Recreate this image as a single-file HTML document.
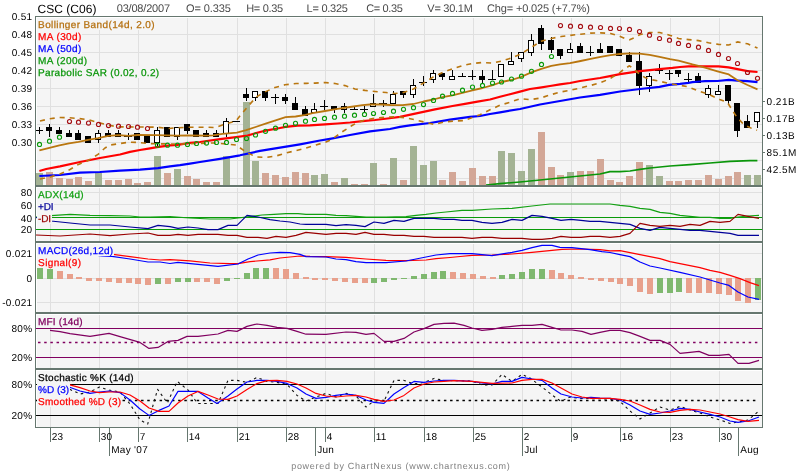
<!DOCTYPE html><html><head><meta charset="utf-8"><title>CSC (C06)</title><style>
html,body{margin:0;padding:0;background:#fff;}body{width:800px;height:472px;overflow:hidden;font-family:"Liberation Sans",sans-serif;}
svg{display:block;font-family:"Liberation Sans",sans-serif;font-size:10px;}svg{will-change:transform}text{text-rendering:geometricPrecision}
.c{shape-rendering:crispEdges}.l{fill:none;stroke-linejoin:round;stroke-linecap:butt}
</style></head><body>
<svg width="800" height="472" viewBox="0 0 800 472">
<rect width="800" height="472" fill="#fff"/>
<g class="c">
<rect x="36" y="17" width="726" height="168" fill="#ffffff"/>
<rect x="37" y="18" width="725" height="167" fill="#f5f5f5"/>
<rect x="36" y="187" width="726" height="54" fill="#ffffff"/>
<rect x="37" y="188" width="725" height="53" fill="#f5f5f5"/>
<rect x="36" y="243" width="726" height="69" fill="#ffffff"/>
<rect x="37" y="244" width="725" height="68" fill="#f5f5f5"/>
<rect x="36" y="314" width="726" height="54" fill="#ffffff"/>
<rect x="37" y="315" width="725" height="53" fill="#f5f5f5"/>
<rect x="36" y="370" width="726" height="57" fill="#ffffff"/>
<rect x="37" y="371" width="725" height="56" fill="#f5f5f5"/>
<rect x="37" y="34" width="725" height="1" fill="#e0e0e0"/>
<rect x="37" y="52" width="725" height="1" fill="#e0e0e0"/>
<rect x="37" y="70" width="725" height="1" fill="#e0e0e0"/>
<rect x="37" y="88" width="725" height="1" fill="#e0e0e0"/>
<rect x="37" y="106" width="725" height="1" fill="#e0e0e0"/>
<rect x="37" y="124" width="725" height="1" fill="#e0e0e0"/>
<rect x="37" y="142" width="725" height="1" fill="#e0e0e0"/>
<rect x="37" y="160" width="725" height="1" fill="#e0e0e0"/>
<rect x="37" y="178" width="725" height="1" fill="#e0e0e0"/>
<rect x="37" y="192" width="725" height="1" fill="#e0e0e0"/>
<rect x="37" y="204" width="725" height="1" fill="#e0e0e0"/>
<rect x="37" y="253" width="725" height="1" fill="#e0e0e0"/>
<rect x="37" y="278" width="725" height="1" fill="#e0e0e0"/>
<rect x="37" y="302" width="725" height="1" fill="#e0e0e0"/>
<rect x="50" y="18" width="1" height="167" fill="#e0e0e0"/>
<rect x="50" y="188" width="1" height="53" fill="#e0e0e0"/>
<rect x="50" y="244" width="1" height="68" fill="#e0e0e0"/>
<rect x="50" y="315" width="1" height="53" fill="#e0e0e0"/>
<rect x="50" y="371" width="1" height="56" fill="#e0e0e0"/>
<rect x="99" y="18" width="1" height="167" fill="#e0e0e0"/>
<rect x="99" y="188" width="1" height="53" fill="#e0e0e0"/>
<rect x="99" y="244" width="1" height="68" fill="#e0e0e0"/>
<rect x="99" y="315" width="1" height="53" fill="#e0e0e0"/>
<rect x="99" y="371" width="1" height="56" fill="#e0e0e0"/>
<rect x="138" y="18" width="1" height="167" fill="#e0e0e0"/>
<rect x="138" y="188" width="1" height="53" fill="#e0e0e0"/>
<rect x="138" y="244" width="1" height="68" fill="#e0e0e0"/>
<rect x="138" y="315" width="1" height="53" fill="#e0e0e0"/>
<rect x="138" y="371" width="1" height="56" fill="#e0e0e0"/>
<rect x="187" y="18" width="1" height="167" fill="#e0e0e0"/>
<rect x="187" y="188" width="1" height="53" fill="#e0e0e0"/>
<rect x="187" y="244" width="1" height="68" fill="#e0e0e0"/>
<rect x="187" y="315" width="1" height="53" fill="#e0e0e0"/>
<rect x="187" y="371" width="1" height="56" fill="#e0e0e0"/>
<rect x="237" y="18" width="1" height="167" fill="#e0e0e0"/>
<rect x="237" y="188" width="1" height="53" fill="#e0e0e0"/>
<rect x="237" y="244" width="1" height="68" fill="#e0e0e0"/>
<rect x="237" y="315" width="1" height="53" fill="#e0e0e0"/>
<rect x="237" y="371" width="1" height="56" fill="#e0e0e0"/>
<rect x="286" y="18" width="1" height="167" fill="#e0e0e0"/>
<rect x="286" y="188" width="1" height="53" fill="#e0e0e0"/>
<rect x="286" y="244" width="1" height="68" fill="#e0e0e0"/>
<rect x="286" y="315" width="1" height="53" fill="#e0e0e0"/>
<rect x="286" y="371" width="1" height="56" fill="#e0e0e0"/>
<rect x="325" y="18" width="1" height="167" fill="#e0e0e0"/>
<rect x="325" y="188" width="1" height="53" fill="#e0e0e0"/>
<rect x="325" y="244" width="1" height="68" fill="#e0e0e0"/>
<rect x="325" y="315" width="1" height="53" fill="#e0e0e0"/>
<rect x="325" y="371" width="1" height="56" fill="#e0e0e0"/>
<rect x="374" y="18" width="1" height="167" fill="#e0e0e0"/>
<rect x="374" y="188" width="1" height="53" fill="#e0e0e0"/>
<rect x="374" y="244" width="1" height="68" fill="#e0e0e0"/>
<rect x="374" y="315" width="1" height="53" fill="#e0e0e0"/>
<rect x="374" y="371" width="1" height="56" fill="#e0e0e0"/>
<rect x="424" y="18" width="1" height="167" fill="#e0e0e0"/>
<rect x="424" y="188" width="1" height="53" fill="#e0e0e0"/>
<rect x="424" y="244" width="1" height="68" fill="#e0e0e0"/>
<rect x="424" y="315" width="1" height="53" fill="#e0e0e0"/>
<rect x="424" y="371" width="1" height="56" fill="#e0e0e0"/>
<rect x="473" y="18" width="1" height="167" fill="#e0e0e0"/>
<rect x="473" y="188" width="1" height="53" fill="#e0e0e0"/>
<rect x="473" y="244" width="1" height="68" fill="#e0e0e0"/>
<rect x="473" y="315" width="1" height="53" fill="#e0e0e0"/>
<rect x="473" y="371" width="1" height="56" fill="#e0e0e0"/>
<rect x="522" y="18" width="1" height="167" fill="#e0e0e0"/>
<rect x="522" y="188" width="1" height="53" fill="#e0e0e0"/>
<rect x="522" y="244" width="1" height="68" fill="#e0e0e0"/>
<rect x="522" y="315" width="1" height="53" fill="#e0e0e0"/>
<rect x="522" y="371" width="1" height="56" fill="#e0e0e0"/>
<rect x="571" y="18" width="1" height="167" fill="#e0e0e0"/>
<rect x="571" y="188" width="1" height="53" fill="#e0e0e0"/>
<rect x="571" y="244" width="1" height="68" fill="#e0e0e0"/>
<rect x="571" y="315" width="1" height="53" fill="#e0e0e0"/>
<rect x="571" y="371" width="1" height="56" fill="#e0e0e0"/>
<rect x="620" y="18" width="1" height="167" fill="#e0e0e0"/>
<rect x="620" y="188" width="1" height="53" fill="#e0e0e0"/>
<rect x="620" y="244" width="1" height="68" fill="#e0e0e0"/>
<rect x="620" y="315" width="1" height="53" fill="#e0e0e0"/>
<rect x="620" y="371" width="1" height="56" fill="#e0e0e0"/>
<rect x="670" y="18" width="1" height="167" fill="#e0e0e0"/>
<rect x="670" y="188" width="1" height="53" fill="#e0e0e0"/>
<rect x="670" y="244" width="1" height="68" fill="#e0e0e0"/>
<rect x="670" y="315" width="1" height="53" fill="#e0e0e0"/>
<rect x="670" y="371" width="1" height="56" fill="#e0e0e0"/>
<rect x="719" y="18" width="1" height="167" fill="#e0e0e0"/>
<rect x="719" y="188" width="1" height="53" fill="#e0e0e0"/>
<rect x="719" y="244" width="1" height="68" fill="#e0e0e0"/>
<rect x="719" y="315" width="1" height="53" fill="#e0e0e0"/>
<rect x="719" y="371" width="1" height="56" fill="#e0e0e0"/>
</g>
<g class="c">
<rect x="36" y="173" width="7" height="12" fill="#a4b394"/>
<rect x="46" y="172" width="7" height="13" fill="#d3a797"/>
<rect x="56" y="178" width="7" height="7" fill="#d3a797"/>
<rect x="66" y="179" width="7" height="6" fill="#d3a797"/>
<rect x="75" y="177" width="7" height="8" fill="#d3a797"/>
<rect x="85" y="181" width="7" height="4" fill="#d3a797"/>
<rect x="95" y="173" width="7" height="12" fill="#a4b394"/>
<rect x="105" y="180" width="7" height="5" fill="#d3a797"/>
<rect x="115" y="180" width="7" height="5" fill="#d3a797"/>
<rect x="125" y="179" width="7" height="6" fill="#d3a797"/>
<rect x="134" y="183" width="7" height="2" fill="#d3a797"/>
<rect x="144" y="182" width="7" height="3" fill="#d3a797"/>
<rect x="154" y="156" width="7" height="29" fill="#a4b394"/>
<rect x="164" y="173" width="7" height="12" fill="#d3a797"/>
<rect x="174" y="169" width="7" height="16" fill="#a4b394"/>
<rect x="184" y="176" width="7" height="9" fill="#d3a797"/>
<rect x="193" y="179" width="7" height="6" fill="#d3a797"/>
<rect x="203" y="182" width="7" height="3" fill="#d3a797"/>
<rect x="213" y="182" width="7" height="3" fill="#d3a797"/>
<rect x="223" y="156" width="7" height="29" fill="#a4b394"/>
<rect x="243" y="102" width="7" height="83" fill="#a4b394"/>
<rect x="252" y="161" width="7" height="24" fill="#a4b394"/>
<rect x="262" y="173" width="7" height="12" fill="#d3a797"/>
<rect x="272" y="175" width="7" height="10" fill="#d3a797"/>
<rect x="282" y="177" width="7" height="8" fill="#d3a797"/>
<rect x="292" y="172" width="7" height="13" fill="#d3a797"/>
<rect x="302" y="173" width="7" height="12" fill="#d3a797"/>
<rect x="311" y="175" width="7" height="10" fill="#a4b394"/>
<rect x="321" y="174" width="7" height="11" fill="#a4b394"/>
<rect x="331" y="182" width="7" height="3" fill="#d3a797"/>
<rect x="341" y="178" width="7" height="7" fill="#a4b394"/>
<rect x="351" y="184" width="7" height="1" fill="#d3a797"/>
<rect x="361" y="184" width="7" height="1" fill="#d3a797"/>
<rect x="370" y="163" width="7" height="22" fill="#a4b394"/>
<rect x="380" y="184" width="7" height="1" fill="#d3a797"/>
<rect x="390" y="158" width="7" height="27" fill="#a4b394"/>
<rect x="400" y="180" width="7" height="5" fill="#d3a797"/>
<rect x="410" y="146" width="7" height="39" fill="#a4b394"/>
<rect x="420" y="165" width="7" height="20" fill="#a4b394"/>
<rect x="430" y="161" width="7" height="24" fill="#a4b394"/>
<rect x="439" y="180" width="7" height="5" fill="#d3a797"/>
<rect x="449" y="172" width="7" height="13" fill="#d3a797"/>
<rect x="459" y="181" width="7" height="4" fill="#d3a797"/>
<rect x="469" y="168" width="7" height="17" fill="#d3a797"/>
<rect x="479" y="176" width="7" height="9" fill="#d3a797"/>
<rect x="489" y="176" width="7" height="9" fill="#d3a797"/>
<rect x="498" y="151" width="7" height="34" fill="#a4b394"/>
<rect x="508" y="153" width="7" height="32" fill="#a4b394"/>
<rect x="518" y="171" width="7" height="14" fill="#a4b394"/>
<rect x="528" y="149" width="7" height="36" fill="#a4b394"/>
<rect x="538" y="132" width="7" height="53" fill="#d3a797"/>
<rect x="548" y="167" width="7" height="18" fill="#d3a797"/>
<rect x="557" y="175" width="7" height="10" fill="#d3a797"/>
<rect x="567" y="172" width="7" height="13" fill="#a4b394"/>
<rect x="577" y="171" width="7" height="14" fill="#d3a797"/>
<rect x="587" y="171" width="7" height="14" fill="#d3a797"/>
<rect x="597" y="159" width="7" height="26" fill="#d3a797"/>
<rect x="607" y="180" width="7" height="5" fill="#d3a797"/>
<rect x="616" y="182" width="7" height="3" fill="#d3a797"/>
<rect x="626" y="176" width="7" height="9" fill="#d3a797"/>
<rect x="636" y="162" width="7" height="23" fill="#d3a797"/>
<rect x="646" y="165" width="7" height="20" fill="#a4b394"/>
<rect x="656" y="176" width="7" height="9" fill="#a4b394"/>
<rect x="666" y="181" width="7" height="4" fill="#d3a797"/>
<rect x="675" y="181" width="7" height="4" fill="#d3a797"/>
<rect x="685" y="180" width="7" height="5" fill="#d3a797"/>
<rect x="695" y="180" width="7" height="5" fill="#d3a797"/>
<rect x="705" y="175" width="7" height="10" fill="#d3a797"/>
<rect x="715" y="179" width="7" height="6" fill="#d3a797"/>
<rect x="725" y="176" width="7" height="9" fill="#d3a797"/>
<rect x="734" y="172" width="7" height="13" fill="#d3a797"/>
<rect x="744" y="175" width="7" height="10" fill="#a4b394"/>
<rect x="754" y="175" width="7" height="10" fill="#a4b394"/>
</g>
<g class="c">
<rect x="39" y="127" width="1" height="7" fill="#000"/>
<rect x="35" y="130" width="8" height="1" fill="#000"/>
<rect x="49" y="124" width="1" height="13" fill="#000"/>
<rect x="46" y="127" width="6" height="4" fill="#000"/>
<rect x="59" y="127" width="1" height="7" fill="#000"/>
<rect x="56" y="130" width="6" height="4" fill="#000"/>
<rect x="69" y="130" width="1" height="7" fill="#000"/>
<rect x="66" y="133" width="6" height="4" fill="#000"/>
<rect x="78" y="130" width="1" height="10" fill="#000"/>
<rect x="75" y="133" width="6" height="7" fill="#000"/>
<rect x="88" y="136" width="1" height="7" fill="#000"/>
<rect x="85" y="136" width="6" height="7" fill="#000"/>
<rect x="98" y="130" width="1" height="13" fill="#000"/>
<rect x="95" y="133" width="6" height="7" fill="#000"/>
<rect x="96" y="134" width="4" height="5" fill="#fff"/>
<rect x="108" y="130" width="1" height="7" fill="#000"/>
<rect x="105" y="133" width="6" height="4" fill="#000"/>
<rect x="118" y="130" width="1" height="7" fill="#000"/>
<rect x="115" y="133" width="6" height="4" fill="#000"/>
<rect x="128" y="133" width="1" height="7" fill="#000"/>
<rect x="124" y="136" width="8" height="1" fill="#000"/>
<rect x="137" y="133" width="1" height="7" fill="#000"/>
<rect x="134" y="133" width="6" height="7" fill="#000"/>
<rect x="147" y="136" width="1" height="7" fill="#000"/>
<rect x="144" y="136" width="6" height="7" fill="#000"/>
<rect x="157" y="127" width="1" height="19" fill="#000"/>
<rect x="154" y="130" width="6" height="13" fill="#000"/>
<rect x="155" y="131" width="4" height="11" fill="#fff"/>
<rect x="167" y="127" width="1" height="10" fill="#000"/>
<rect x="164" y="127" width="6" height="10" fill="#000"/>
<rect x="177" y="127" width="1" height="13" fill="#000"/>
<rect x="174" y="127" width="6" height="10" fill="#000"/>
<rect x="175" y="128" width="4" height="8" fill="#fff"/>
<rect x="187" y="124" width="1" height="10" fill="#000"/>
<rect x="184" y="124" width="6" height="7" fill="#000"/>
<rect x="196" y="130" width="1" height="7" fill="#000"/>
<rect x="193" y="130" width="6" height="7" fill="#000"/>
<rect x="206" y="130" width="1" height="7" fill="#000"/>
<rect x="203" y="133" width="6" height="4" fill="#000"/>
<rect x="216" y="130" width="1" height="7" fill="#000"/>
<rect x="213" y="133" width="6" height="4" fill="#000"/>
<rect x="226" y="118" width="1" height="19" fill="#000"/>
<rect x="223" y="121" width="6" height="13" fill="#000"/>
<rect x="224" y="122" width="4" height="11" fill="#fff"/>
<rect x="232" y="121" width="8" height="1" fill="#000"/>
<rect x="246" y="88" width="1" height="13" fill="#000"/>
<rect x="243" y="94" width="6" height="4" fill="#000"/>
<rect x="255" y="91" width="1" height="10" fill="#000"/>
<rect x="252" y="91" width="6" height="7" fill="#000"/>
<rect x="253" y="92" width="4" height="5" fill="#fff"/>
<rect x="265" y="91" width="1" height="10" fill="#000"/>
<rect x="262" y="91" width="6" height="7" fill="#000"/>
<rect x="275" y="94" width="1" height="10" fill="#000"/>
<rect x="271" y="97" width="8" height="1" fill="#000"/>
<rect x="285" y="94" width="1" height="10" fill="#000"/>
<rect x="282" y="97" width="6" height="4" fill="#000"/>
<rect x="295" y="97" width="1" height="13" fill="#000"/>
<rect x="292" y="103" width="6" height="7" fill="#000"/>
<rect x="305" y="106" width="1" height="10" fill="#000"/>
<rect x="302" y="109" width="6" height="7" fill="#000"/>
<rect x="314" y="103" width="1" height="10" fill="#000"/>
<rect x="311" y="109" width="6" height="4" fill="#000"/>
<rect x="312" y="110" width="4" height="2" fill="#fff"/>
<rect x="324" y="100" width="1" height="10" fill="#000"/>
<rect x="320" y="106" width="8" height="1" fill="#000"/>
<rect x="334" y="106" width="1" height="7" fill="#000"/>
<rect x="331" y="106" width="6" height="4" fill="#000"/>
<rect x="344" y="103" width="1" height="10" fill="#000"/>
<rect x="341" y="106" width="6" height="4" fill="#000"/>
<rect x="342" y="107" width="4" height="2" fill="#fff"/>
<rect x="354" y="106" width="1" height="4" fill="#000"/>
<rect x="350" y="109" width="8" height="1" fill="#000"/>
<rect x="364" y="106" width="1" height="7" fill="#000"/>
<rect x="360" y="109" width="8" height="1" fill="#000"/>
<rect x="373" y="94" width="1" height="13" fill="#000"/>
<rect x="370" y="103" width="6" height="4" fill="#000"/>
<rect x="371" y="104" width="4" height="2" fill="#fff"/>
<rect x="383" y="100" width="1" height="7" fill="#000"/>
<rect x="379" y="103" width="8" height="1" fill="#000"/>
<rect x="393" y="91" width="1" height="13" fill="#000"/>
<rect x="390" y="94" width="6" height="10" fill="#000"/>
<rect x="391" y="95" width="4" height="8" fill="#fff"/>
<rect x="403" y="91" width="1" height="7" fill="#000"/>
<rect x="400" y="91" width="6" height="4" fill="#000"/>
<rect x="413" y="79" width="1" height="19" fill="#000"/>
<rect x="410" y="85" width="6" height="10" fill="#000"/>
<rect x="411" y="86" width="4" height="8" fill="#fff"/>
<rect x="423" y="76" width="1" height="10" fill="#000"/>
<rect x="419" y="82" width="8" height="1" fill="#000"/>
<rect x="433" y="70" width="1" height="13" fill="#000"/>
<rect x="430" y="73" width="6" height="7" fill="#000"/>
<rect x="431" y="74" width="4" height="5" fill="#fff"/>
<rect x="442" y="73" width="1" height="7" fill="#000"/>
<rect x="439" y="73" width="6" height="4" fill="#000"/>
<rect x="452" y="70" width="1" height="10" fill="#000"/>
<rect x="449" y="76" width="6" height="4" fill="#000"/>
<rect x="450" y="77" width="4" height="2" fill="#fff"/>
<rect x="462" y="73" width="1" height="4" fill="#000"/>
<rect x="458" y="76" width="8" height="1" fill="#000"/>
<rect x="472" y="70" width="1" height="10" fill="#000"/>
<rect x="468" y="76" width="8" height="1" fill="#000"/>
<rect x="482" y="70" width="1" height="13" fill="#000"/>
<rect x="479" y="76" width="6" height="4" fill="#000"/>
<rect x="492" y="70" width="1" height="10" fill="#000"/>
<rect x="488" y="79" width="8" height="1" fill="#000"/>
<rect x="501" y="64" width="1" height="13" fill="#000"/>
<rect x="498" y="64" width="6" height="13" fill="#000"/>
<rect x="499" y="65" width="4" height="11" fill="#fff"/>
<rect x="511" y="52" width="1" height="13" fill="#000"/>
<rect x="508" y="61" width="6" height="4" fill="#000"/>
<rect x="509" y="62" width="4" height="2" fill="#fff"/>
<rect x="521" y="52" width="1" height="10" fill="#000"/>
<rect x="518" y="52" width="6" height="7" fill="#000"/>
<rect x="519" y="53" width="4" height="5" fill="#fff"/>
<rect x="531" y="34" width="1" height="22" fill="#000"/>
<rect x="528" y="40" width="6" height="13" fill="#000"/>
<rect x="529" y="41" width="4" height="11" fill="#fff"/>
<rect x="541" y="25" width="1" height="25" fill="#000"/>
<rect x="538" y="28" width="6" height="16" fill="#000"/>
<rect x="551" y="37" width="1" height="16" fill="#000"/>
<rect x="548" y="40" width="6" height="10" fill="#000"/>
<rect x="560" y="49" width="1" height="10" fill="#000"/>
<rect x="557" y="49" width="6" height="7" fill="#000"/>
<rect x="570" y="43" width="1" height="10" fill="#000"/>
<rect x="567" y="49" width="6" height="4" fill="#000"/>
<rect x="568" y="50" width="4" height="2" fill="#fff"/>
<rect x="580" y="43" width="1" height="10" fill="#000"/>
<rect x="577" y="46" width="6" height="7" fill="#000"/>
<rect x="590" y="46" width="1" height="10" fill="#000"/>
<rect x="586" y="52" width="8" height="1" fill="#000"/>
<rect x="600" y="43" width="1" height="10" fill="#000"/>
<rect x="597" y="49" width="6" height="4" fill="#000"/>
<rect x="610" y="46" width="1" height="7" fill="#000"/>
<rect x="607" y="46" width="6" height="7" fill="#000"/>
<rect x="619" y="49" width="1" height="7" fill="#000"/>
<rect x="616" y="49" width="6" height="7" fill="#000"/>
<rect x="629" y="52" width="1" height="10" fill="#000"/>
<rect x="626" y="55" width="6" height="7" fill="#000"/>
<rect x="639" y="52" width="1" height="43" fill="#000"/>
<rect x="636" y="61" width="6" height="25" fill="#000"/>
<rect x="649" y="73" width="1" height="19" fill="#000"/>
<rect x="646" y="76" width="6" height="10" fill="#000"/>
<rect x="647" y="77" width="4" height="8" fill="#fff"/>
<rect x="659" y="64" width="1" height="10" fill="#000"/>
<rect x="655" y="70" width="8" height="1" fill="#000"/>
<rect x="669" y="70" width="1" height="10" fill="#000"/>
<rect x="665" y="73" width="8" height="1" fill="#000"/>
<rect x="678" y="70" width="1" height="7" fill="#000"/>
<rect x="675" y="70" width="6" height="4" fill="#000"/>
<rect x="688" y="73" width="1" height="10" fill="#000"/>
<rect x="684" y="79" width="8" height="1" fill="#000"/>
<rect x="698" y="73" width="1" height="10" fill="#000"/>
<rect x="695" y="76" width="6" height="7" fill="#000"/>
<rect x="708" y="85" width="1" height="13" fill="#000"/>
<rect x="705" y="88" width="6" height="7" fill="#000"/>
<rect x="706" y="89" width="4" height="5" fill="#fff"/>
<rect x="718" y="85" width="1" height="10" fill="#000"/>
<rect x="715" y="91" width="6" height="4" fill="#000"/>
<rect x="716" y="92" width="4" height="2" fill="#fff"/>
<rect x="728" y="85" width="1" height="19" fill="#000"/>
<rect x="725" y="85" width="6" height="16" fill="#000"/>
<rect x="737" y="103" width="1" height="34" fill="#000"/>
<rect x="734" y="103" width="6" height="28" fill="#000"/>
<rect x="747" y="115" width="1" height="13" fill="#000"/>
<rect x="744" y="121" width="6" height="7" fill="#000"/>
<rect x="757" y="112" width="1" height="16" fill="#000"/>
<rect x="754" y="112" width="6" height="10" fill="#000"/>
<rect x="755" y="113" width="4" height="8" fill="#fff"/>
</g>
<polyline class="l" points="486.0,185.0 500.0,183.6 520.0,182.0 540.0,180.0 560.0,178.0 580.0,176.0 600.0,174.0 610.0,171.6 620.0,171.6 630.0,171.0 640.0,169.4 650.0,168.0 670.0,166.0 690.0,164.6 710.0,163.0 730.0,161.4 750.0,160.6 757.4,160.6" stroke="#0a960a" stroke-width="1.6" />
<polyline class="l" points="39.4,176.0 60.0,175.0 80.0,172.6 100.0,172.0 120.0,170.6 140.0,169.7 158.0,168.2 170.0,166.4 180.0,165.2 190.0,163.6 200.0,162.0 220.0,158.8 240.0,155.3 260.0,150.9 280.0,147.7 300.0,144.3 320.0,140.5 330.0,138.8 340.0,137.0 350.0,135.0 370.0,131.4 390.0,129.0 400.0,126.9 410.0,125.4 430.0,123.0 450.0,119.6 470.0,116.8 480.0,116.0 490.0,114.0 500.0,112.3 520.0,109.0 540.0,104.5 560.0,101.0 580.0,97.5 600.0,94.8 620.0,91.5 640.0,89.0 659.4,86.9 669.1,84.9 680.0,83.9 688.4,82.9 692.5,82.2 700.0,81.5 705.0,81.1 717.5,81.0 728.8,79.9 737.5,80.6 747.5,81.2 757.5,82.1" stroke="#0000ff" stroke-width="2.2" />
<polyline class="l" points="39.4,171.0 46.2,169.0 60.0,166.4 80.0,162.0 100.0,158.0 120.0,154.5 130.0,151.9 140.0,150.0 150.0,148.3 157.0,147.2 170.0,145.3 177.5,144.8 190.0,142.9 200.0,142.0 220.0,139.2 236.0,137.1 247.5,135.5 260.0,132.0 265.6,130.6 280.0,128.0 285.6,126.9 297.5,125.6 310.0,125.3 325.0,124.4 337.5,123.5 350.0,122.5 362.5,121.2 375.0,120.0 387.5,118.5 400.0,116.8 435.0,109.4 452.5,106.0 465.0,103.8 477.5,101.7 490.0,99.5 500.0,96.8 510.0,94.2 520.0,91.6 530.0,89.0 540.0,87.6 550.0,86.0 560.0,84.4 570.0,83.0 580.0,81.0 590.0,79.5 600.0,78.0 610.0,76.2 620.0,74.2 630.0,72.6 640.0,71.2 650.0,70.2 659.4,69.1 672.5,67.9 680.0,67.0 688.5,66.4 705.0,66.3 718.5,66.4 728.5,67.4 737.5,69.2 747.5,71.1 757.5,72.0" stroke="#ff0000" stroke-width="2.2" />
<polyline class="l" points="40.0,179.0 50.0,177.0 60.0,174.0 70.0,169.5 78.5,164.4 87.9,160.6 98.0,154.4 105.0,148.0 110.0,145.0 118.4,143.8 128.8,142.2 139.0,142.5 147.5,143.5 157.5,143.8 177.5,144.0 187.5,143.8 197.5,143.5 207.5,143.1 216.0,143.0 226.0,144.0 236.0,145.0 246.0,152.0 256.0,157.0 266.0,157.4 276.0,156.0 286.0,153.0 296.0,150.6 306.0,148.0 316.0,145.0 326.0,142.0 332.0,139.4 342.0,132.0 352.0,125.5 357.5,122.5 365.0,120.0 375.0,118.0 386.0,117.2 395.0,116.8 404.0,117.6 414.0,119.6 424.0,122.0 434.0,124.4 444.0,122.0 454.0,121.0 464.0,120.6 474.0,117.0 480.0,114.7 490.0,109.8 500.0,105.2 510.0,102.3 520.0,98.7 530.0,99.6 540.0,98.2 550.0,95.0 560.0,92.0 570.0,90.4 580.0,88.0 590.0,85.6 600.0,82.9 610.0,78.7 620.0,72.3 625.0,68.5 629.5,65.8 635.0,70.2 640.0,74.6 645.0,77.5 650.0,79.4 659.4,81.2 669.1,83.5 678.8,85.0 688.4,86.9 697.5,90.6 708.8,94.4 719.6,99.4 727.5,102.5 732.5,110.6 737.1,117.5 742.5,123.1 747.1,126.2 752.5,128.8 757.1,130.2" stroke="#b9760f" stroke-width="1.6" stroke-dasharray="5,5"/>
<polyline class="l" points="40.0,121.0 49.4,118.8 59.4,117.5 69.4,117.8 78.5,118.5 88.4,119.8 98.4,122.5 108.4,125.2 118.4,126.9 128.0,126.9 157.5,127.2 167.5,128.5 177.5,127.8 187.5,127.2 197.5,127.2 207.5,127.2 215.0,127.5 226.2,123.8 236.0,121.0 241.9,113.5 247.5,106.9 253.1,100.6 257.5,96.2 265.0,91.9 275.0,87.5 285.0,84.8 296.2,83.5 306.2,83.4 315.0,83.1 325.0,82.5 335.0,83.5 345.0,85.6 355.0,89.0 365.0,90.4 375.0,91.5 386.0,92.5 395.0,93.5 402.5,92.8 413.4,89.0 423.4,83.1 433.4,76.9 442.5,72.5 452.4,68.8 462.4,65.6 472.4,63.5 482.5,62.5 492.5,63.1 501.2,61.2 511.2,58.1 521.2,53.8 531.2,47.5 541.2,41.2 551.2,38.5 561.2,36.5 570.0,35.4 580.6,34.2 590.6,33.1 600.6,32.9 610.6,33.5 619.6,36.2 625.0,38.5 629.6,39.8 635.0,37.5 639.6,34.8 649.6,32.5 659.6,32.5 669.6,35.2 678.5,38.5 688.5,39.6 698.5,40.6 708.5,42.8 718.5,44.4 728.5,45.0 737.5,41.9 747.5,43.8 757.5,48.1" stroke="#b9760f" stroke-width="1.6" stroke-dasharray="5,5"/>
<polyline class="l" points="39.4,150.4 49.4,147.8 59.4,145.3 69.0,143.3 78.5,141.8 88.0,139.9 98.0,138.1 108.4,135.9 118.4,135.2 128.8,135.8 137.5,135.0 157.0,135.2 177.5,135.6 187.5,135.4 207.5,135.6 213.0,135.4 222.5,133.8 236.9,132.6 246.2,130.1 255.6,127.0 265.6,123.7 275.6,120.4 285.6,117.2 295.6,116.5 305.6,114.8 312.5,113.1 325.0,111.0 337.5,108.8 350.0,107.0 362.5,105.1 370.0,104.5 381.0,104.5 390.0,105.0 402.5,105.2 413.4,104.0 423.4,101.5 433.4,99.5 442.5,97.1 452.4,95.3 462.4,92.8 472.4,90.3 482.5,88.0 492.0,85.4 501.6,82.0 511.4,80.0 521.4,76.8 531.3,72.4 541.3,68.8 551.3,65.9 560.0,64.3 570.0,63.1 580.6,61.0 590.6,58.8 600.6,56.9 610.6,55.1 619.6,54.0 629.6,53.4 639.6,53.6 649.6,54.9 659.6,56.9 670.0,59.2 678.5,60.6 692.5,64.4 698.5,65.8 705.0,67.6 717.5,71.3 728.8,74.4 737.5,80.3 747.5,85.0 757.5,89.4" stroke="#b9760f" stroke-width="1.8" />
<circle cx="39.5" cy="144.4" r="2.05" fill="none" stroke="#0a9a0a" stroke-width="1.1"/>
<circle cx="49.5" cy="141.2" r="2.05" fill="none" stroke="#0a9a0a" stroke-width="1.1"/>
<circle cx="59.5" cy="137.2" r="2.05" fill="none" stroke="#0a9a0a" stroke-width="1.1"/>
<circle cx="69.5" cy="121.5" r="2.05" fill="none" stroke="#a50f14" stroke-width="1.1"/>
<circle cx="78.5" cy="122.2" r="2.05" fill="none" stroke="#a50f14" stroke-width="1.1"/>
<circle cx="88.5" cy="123.1" r="2.05" fill="none" stroke="#a50f14" stroke-width="1.1"/>
<circle cx="98.5" cy="124.4" r="2.05" fill="none" stroke="#a50f14" stroke-width="1.1"/>
<circle cx="108.5" cy="125.6" r="2.05" fill="none" stroke="#a50f14" stroke-width="1.1"/>
<circle cx="118.5" cy="126.2" r="2.05" fill="none" stroke="#a50f14" stroke-width="1.1"/>
<circle cx="128.5" cy="126.5" r="2.05" fill="none" stroke="#a50f14" stroke-width="1.1"/>
<circle cx="137.5" cy="127.2" r="2.05" fill="none" stroke="#a50f14" stroke-width="1.1"/>
<circle cx="147.5" cy="128.5" r="2.05" fill="none" stroke="#a50f14" stroke-width="1.1"/>
<circle cx="157.5" cy="145.2" r="2.05" fill="none" stroke="#0a9a0a" stroke-width="1.1"/>
<circle cx="167.5" cy="145.2" r="2.05" fill="none" stroke="#0a9a0a" stroke-width="1.1"/>
<circle cx="177.5" cy="145.2" r="2.05" fill="none" stroke="#0a9a0a" stroke-width="1.1"/>
<circle cx="187.5" cy="144.4" r="2.05" fill="none" stroke="#0a9a0a" stroke-width="1.1"/>
<circle cx="196.5" cy="143.5" r="2.05" fill="none" stroke="#0a9a0a" stroke-width="1.1"/>
<circle cx="206.5" cy="143.1" r="2.05" fill="none" stroke="#0a9a0a" stroke-width="1.1"/>
<circle cx="216.5" cy="142.5" r="2.05" fill="none" stroke="#0a9a0a" stroke-width="1.1"/>
<circle cx="226.5" cy="142.4" r="2.05" fill="none" stroke="#0a9a0a" stroke-width="1.1"/>
<circle cx="236.5" cy="139.5" r="2.05" fill="none" stroke="#0a9a0a" stroke-width="1.1"/>
<circle cx="246.5" cy="138.5" r="2.05" fill="none" stroke="#0a9a0a" stroke-width="1.1"/>
<circle cx="255.5" cy="135.0" r="2.05" fill="none" stroke="#0a9a0a" stroke-width="1.1"/>
<circle cx="265.5" cy="131.3" r="2.05" fill="none" stroke="#0a9a0a" stroke-width="1.1"/>
<circle cx="275.5" cy="128.2" r="2.05" fill="none" stroke="#0a9a0a" stroke-width="1.1"/>
<circle cx="285.5" cy="125.3" r="2.05" fill="none" stroke="#0a9a0a" stroke-width="1.1"/>
<circle cx="295.5" cy="123.3" r="2.05" fill="none" stroke="#0a9a0a" stroke-width="1.1"/>
<circle cx="305.5" cy="121.2" r="2.05" fill="none" stroke="#0a9a0a" stroke-width="1.1"/>
<circle cx="314.5" cy="119.4" r="2.05" fill="none" stroke="#0a9a0a" stroke-width="1.1"/>
<circle cx="324.5" cy="118.4" r="2.05" fill="none" stroke="#0a9a0a" stroke-width="1.1"/>
<circle cx="334.5" cy="117.2" r="2.05" fill="none" stroke="#0a9a0a" stroke-width="1.1"/>
<circle cx="344.5" cy="116.2" r="2.05" fill="none" stroke="#0a9a0a" stroke-width="1.1"/>
<circle cx="354.5" cy="115.2" r="2.05" fill="none" stroke="#0a9a0a" stroke-width="1.1"/>
<circle cx="364.5" cy="114.4" r="2.05" fill="none" stroke="#0a9a0a" stroke-width="1.1"/>
<circle cx="373.5" cy="113.5" r="2.05" fill="none" stroke="#0a9a0a" stroke-width="1.1"/>
<circle cx="383.5" cy="112.5" r="2.05" fill="none" stroke="#0a9a0a" stroke-width="1.1"/>
<circle cx="393.5" cy="111.2" r="2.05" fill="none" stroke="#0a9a0a" stroke-width="1.1"/>
<circle cx="403.5" cy="109.3" r="2.05" fill="none" stroke="#0a9a0a" stroke-width="1.1"/>
<circle cx="413.5" cy="107.7" r="2.05" fill="none" stroke="#0a9a0a" stroke-width="1.1"/>
<circle cx="423.5" cy="104.6" r="2.05" fill="none" stroke="#0a9a0a" stroke-width="1.1"/>
<circle cx="433.5" cy="100.4" r="2.05" fill="none" stroke="#0a9a0a" stroke-width="1.1"/>
<circle cx="442.5" cy="96.2" r="2.05" fill="none" stroke="#0a9a0a" stroke-width="1.1"/>
<circle cx="452.5" cy="93.4" r="2.05" fill="none" stroke="#0a9a0a" stroke-width="1.1"/>
<circle cx="462.5" cy="90.2" r="2.05" fill="none" stroke="#0a9a0a" stroke-width="1.1"/>
<circle cx="472.5" cy="87.1" r="2.05" fill="none" stroke="#0a9a0a" stroke-width="1.1"/>
<circle cx="482.5" cy="85.4" r="2.05" fill="none" stroke="#0a9a0a" stroke-width="1.1"/>
<circle cx="492.5" cy="83.0" r="2.05" fill="none" stroke="#0a9a0a" stroke-width="1.1"/>
<circle cx="501.5" cy="82.0" r="2.05" fill="none" stroke="#0a9a0a" stroke-width="1.1"/>
<circle cx="511.5" cy="79.0" r="2.05" fill="none" stroke="#0a9a0a" stroke-width="1.1"/>
<circle cx="521.5" cy="76.2" r="2.05" fill="none" stroke="#0a9a0a" stroke-width="1.1"/>
<circle cx="531.5" cy="71.3" r="2.05" fill="none" stroke="#0a9a0a" stroke-width="1.1"/>
<circle cx="541.5" cy="64.4" r="2.05" fill="none" stroke="#0a9a0a" stroke-width="1.1"/>
<circle cx="551.5" cy="56.5" r="2.05" fill="none" stroke="#0a9a0a" stroke-width="1.1"/>
<circle cx="560.5" cy="25.6" r="2.05" fill="none" stroke="#a50f14" stroke-width="1.1"/>
<circle cx="570.5" cy="26.2" r="2.05" fill="none" stroke="#a50f14" stroke-width="1.1"/>
<circle cx="580.5" cy="26.4" r="2.05" fill="none" stroke="#a50f14" stroke-width="1.1"/>
<circle cx="590.5" cy="27.2" r="2.05" fill="none" stroke="#a50f14" stroke-width="1.1"/>
<circle cx="600.5" cy="27.5" r="2.05" fill="none" stroke="#a50f14" stroke-width="1.1"/>
<circle cx="610.5" cy="28.4" r="2.05" fill="none" stroke="#a50f14" stroke-width="1.1"/>
<circle cx="619.5" cy="28.5" r="2.05" fill="none" stroke="#a50f14" stroke-width="1.1"/>
<circle cx="629.5" cy="29.4" r="2.05" fill="none" stroke="#a50f14" stroke-width="1.1"/>
<circle cx="639.5" cy="31.5" r="2.05" fill="none" stroke="#a50f14" stroke-width="1.1"/>
<circle cx="649.5" cy="35.2" r="2.05" fill="none" stroke="#a50f14" stroke-width="1.1"/>
<circle cx="659.5" cy="38.5" r="2.05" fill="none" stroke="#a50f14" stroke-width="1.1"/>
<circle cx="669.5" cy="40.2" r="2.05" fill="none" stroke="#a50f14" stroke-width="1.1"/>
<circle cx="678.5" cy="43.4" r="2.05" fill="none" stroke="#a50f14" stroke-width="1.1"/>
<circle cx="688.5" cy="45.4" r="2.05" fill="none" stroke="#a50f14" stroke-width="1.1"/>
<circle cx="698.5" cy="47.2" r="2.05" fill="none" stroke="#a50f14" stroke-width="1.1"/>
<circle cx="708.5" cy="50.4" r="2.05" fill="none" stroke="#a50f14" stroke-width="1.1"/>
<circle cx="718.5" cy="54.4" r="2.05" fill="none" stroke="#a50f14" stroke-width="1.1"/>
<circle cx="728.5" cy="58.5" r="2.05" fill="none" stroke="#a50f14" stroke-width="1.1"/>
<circle cx="737.5" cy="63.5" r="2.05" fill="none" stroke="#a50f14" stroke-width="1.1"/>
<circle cx="747.5" cy="72.5" r="2.05" fill="none" stroke="#a50f14" stroke-width="1.1"/>
<circle cx="757.5" cy="78.3" r="2.05" fill="none" stroke="#a50f14" stroke-width="1.1"/>
<g class="c">
<rect x="36" y="217" width="726" height="1.4" fill="#0a9a0a"/>
<rect x="36" y="229" width="726" height="1.4" fill="#0a9a0a"/>
</g>
<polyline class="l" points="36.0,217.0 51.0,215.6 70.0,214.4 90.0,215.4 110.0,215.6 130.0,216.0 140.0,217.0 150.0,217.0 170.0,216.6 190.0,218.0 210.0,219.0 230.0,219.0 238.0,218.0 250.0,216.6 262.0,215.0 274.0,214.4 286.0,213.6 298.0,213.6 306.0,214.4 326.0,214.4 336.0,215.4 346.0,215.6 356.0,216.4 366.0,217.0 386.0,217.0 406.0,216.6 416.0,215.4 426.0,214.4 436.0,213.0 446.0,212.0 462.0,210.4 472.0,210.4 492.0,209.0 512.0,208.4 532.0,206.0 550.0,204.0 610.0,204.0 620.0,205.4 630.0,206.4 640.0,208.4 650.0,209.4 660.0,212.4 670.0,213.4 680.0,215.4 690.0,216.4 700.0,217.4 710.0,217.4 720.0,218.4 730.0,218.4 738.0,217.0 748.0,216.0 759.0,215.4" stroke="#12a012" stroke-width="1.2" />
<polyline class="l" points="36.0,217.5 51.0,221.0 70.0,223.0 90.0,225.0 110.0,225.0 130.0,227.0 148.0,228.6 158.0,225.4 170.0,226.6 178.0,228.4 188.0,227.0 198.0,228.0 208.0,229.6 218.0,229.6 228.0,225.4 237.0,225.4 247.0,215.4 258.0,217.0 270.0,219.6 280.0,221.0 290.0,222.0 300.0,224.0 306.0,224.4 326.0,224.4 336.0,225.6 346.0,224.6 356.0,225.4 365.0,226.6 374.0,222.0 384.0,223.4 394.0,220.4 404.0,221.4 414.0,218.4 434.0,218.4 444.0,219.4 454.0,219.4 462.0,220.4 472.0,220.4 482.0,222.4 492.0,223.4 502.0,222.4 512.0,219.4 522.0,220.4 532.0,215.4 542.0,216.4 552.0,218.4 561.0,220.4 571.0,219.4 581.0,220.4 590.0,221.4 600.0,221.4 610.0,222.4 620.0,223.4 630.0,224.4 640.0,228.4 650.0,230.4 660.0,227.4 670.0,228.4 680.0,229.4 690.0,230.4 700.0,230.4 710.0,231.4 720.0,232.4 730.0,233.4 738.0,235.4 759.0,235.4" stroke="#000099" stroke-width="1.2" />
<polyline class="l" points="36.0,235.0 60.0,236.0 90.0,234.0 110.0,235.6 130.0,234.0 148.0,233.0 158.0,235.4 170.0,235.4 178.0,234.4 188.0,235.4 198.0,234.4 218.0,234.4 228.0,235.4 237.0,235.4 247.0,237.4 258.0,237.4 267.0,238.4 276.0,236.4 286.0,237.4 296.0,235.4 306.0,232.4 316.0,233.4 326.0,234.4 336.0,233.4 346.0,233.4 356.0,234.4 365.0,232.4 374.0,234.4 384.0,234.4 394.0,235.4 404.0,235.4 414.0,236.4 424.0,236.4 434.0,237.4 462.0,237.4 472.0,238.4 482.0,237.4 492.0,237.4 502.0,238.4 522.0,238.4 532.0,239.4 542.0,239.4 552.0,238.4 561.0,236.4 571.0,237.4 581.0,237.4 590.0,236.4 600.0,236.4 610.0,237.4 620.0,236.4 630.0,233.4 640.0,223.4 650.0,225.4 660.0,226.4 670.0,225.4 680.0,226.4 690.0,224.4 700.0,225.4 710.0,221.4 720.0,222.4 730.0,221.4 738.0,214.4 748.0,216.4 759.0,218.4" stroke="#990000" stroke-width="1.2" />
<g class="c">
<rect x="37" y="268" width="6" height="11" fill="#7fb86f"/>
<rect x="47" y="269" width="6" height="10" fill="#7fb86f"/>
<rect x="57" y="271" width="6" height="8" fill="#e8a08c"/>
<rect x="67" y="274" width="6" height="5" fill="#e8a08c"/>
<rect x="76" y="277" width="6" height="2" fill="#e8a08c"/>
<rect x="86" y="278" width="6" height="3" fill="#e8a08c"/>
<rect x="96" y="278" width="6" height="3" fill="#e8a08c"/>
<rect x="106" y="278" width="6" height="4" fill="#e8a08c"/>
<rect x="116" y="278" width="6" height="5" fill="#e8a08c"/>
<rect x="126" y="278" width="6" height="5" fill="#e8a08c"/>
<rect x="135" y="278" width="6" height="6" fill="#e8a08c"/>
<rect x="145" y="278" width="6" height="7" fill="#e8a08c"/>
<rect x="155" y="278" width="6" height="6" fill="#7fb86f"/>
<rect x="165" y="278" width="6" height="6" fill="#e8a08c"/>
<rect x="175" y="278" width="6" height="4" fill="#7fb86f"/>
<rect x="185" y="278" width="6" height="4" fill="#7fb86f"/>
<rect x="194" y="278" width="6" height="4" fill="#e8a08c"/>
<rect x="204" y="278" width="6" height="4" fill="#e8a08c"/>
<rect x="214" y="278" width="6" height="6" fill="#e8a08c"/>
<rect x="224" y="278" width="6" height="3" fill="#7fb86f"/>
<rect x="234" y="278" width="6" height="1" fill="#7fb86f"/>
<rect x="244" y="273" width="6" height="6" fill="#7fb86f"/>
<rect x="253" y="268" width="6" height="11" fill="#7fb86f"/>
<rect x="263" y="268" width="6" height="11" fill="#7fb86f"/>
<rect x="273" y="268" width="6" height="11" fill="#e8a08c"/>
<rect x="283" y="269" width="6" height="10" fill="#e8a08c"/>
<rect x="293" y="273" width="6" height="6" fill="#e8a08c"/>
<rect x="303" y="277" width="6" height="2" fill="#e8a08c"/>
<rect x="312" y="278" width="6" height="2" fill="#e8a08c"/>
<rect x="322" y="278" width="6" height="2" fill="#e8a08c"/>
<rect x="332" y="278" width="6" height="3" fill="#e8a08c"/>
<rect x="342" y="278" width="6" height="4" fill="#e8a08c"/>
<rect x="352" y="278" width="6" height="5" fill="#e8a08c"/>
<rect x="362" y="278" width="6" height="5" fill="#e8a08c"/>
<rect x="371" y="278" width="6" height="5" fill="#7fb86f"/>
<rect x="381" y="278" width="6" height="4" fill="#7fb86f"/>
<rect x="391" y="278" width="6" height="2" fill="#7fb86f"/>
<rect x="401" y="278" width="6" height="1" fill="#7fb86f"/>
<rect x="411" y="276" width="6" height="3" fill="#7fb86f"/>
<rect x="421" y="274" width="6" height="5" fill="#7fb86f"/>
<rect x="431" y="272" width="6" height="7" fill="#7fb86f"/>
<rect x="440" y="271" width="6" height="8" fill="#7fb86f"/>
<rect x="450" y="272" width="6" height="7" fill="#e8a08c"/>
<rect x="460" y="273" width="6" height="6" fill="#e8a08c"/>
<rect x="470" y="274" width="6" height="5" fill="#e8a08c"/>
<rect x="480" y="276" width="6" height="3" fill="#e8a08c"/>
<rect x="490" y="277" width="6" height="2" fill="#e8a08c"/>
<rect x="499" y="275" width="6" height="4" fill="#7fb86f"/>
<rect x="509" y="274" width="6" height="5" fill="#7fb86f"/>
<rect x="519" y="272" width="6" height="7" fill="#7fb86f"/>
<rect x="529" y="269" width="6" height="10" fill="#7fb86f"/>
<rect x="539" y="269" width="6" height="10" fill="#7fb86f"/>
<rect x="549" y="270" width="6" height="9" fill="#e8a08c"/>
<rect x="558" y="273" width="6" height="6" fill="#e8a08c"/>
<rect x="568" y="275" width="6" height="4" fill="#e8a08c"/>
<rect x="578" y="277" width="6" height="2" fill="#e8a08c"/>
<rect x="588" y="278" width="6" height="2" fill="#e8a08c"/>
<rect x="598" y="278" width="6" height="3" fill="#e8a08c"/>
<rect x="608" y="278" width="6" height="4" fill="#e8a08c"/>
<rect x="617" y="278" width="6" height="6" fill="#e8a08c"/>
<rect x="627" y="278" width="6" height="8" fill="#e8a08c"/>
<rect x="637" y="278" width="6" height="14" fill="#e8a08c"/>
<rect x="647" y="278" width="6" height="16" fill="#e8a08c"/>
<rect x="657" y="278" width="6" height="15" fill="#7fb86f"/>
<rect x="667" y="278" width="6" height="15" fill="#7fb86f"/>
<rect x="676" y="278" width="6" height="14" fill="#7fb86f"/>
<rect x="686" y="278" width="6" height="15" fill="#e8a08c"/>
<rect x="696" y="278" width="6" height="15" fill="#e8a08c"/>
<rect x="706" y="278" width="6" height="15" fill="#e8a08c"/>
<rect x="716" y="278" width="6" height="16" fill="#e8a08c"/>
<rect x="726" y="278" width="6" height="17" fill="#e8a08c"/>
<rect x="735" y="278" width="6" height="23" fill="#e8a08c"/>
<rect x="745" y="278" width="6" height="25" fill="#e8a08c"/>
<rect x="755" y="278" width="6" height="22" fill="#7fb86f"/>
</g>
<polyline class="l" points="40.0,246.5 60.0,249.0 90.0,252.0 113.0,254.4 130.0,256.6 148.0,259.0 160.0,260.0 170.0,259.6 190.0,260.8 210.0,263.0 230.0,263.6 238.0,263.6 250.0,261.6 270.0,259.8 280.0,258.0 290.0,257.0 300.0,256.0 310.0,256.4 326.0,256.6 346.0,257.4 366.0,259.0 386.0,260.4 406.0,260.6 426.0,260.0 436.0,258.6 450.0,257.5 460.0,256.5 472.0,255.4 492.0,255.0 512.0,254.0 532.0,252.4 552.0,250.4 562.0,249.4 580.0,249.0 600.0,249.6 610.0,250.8 620.0,250.6 630.0,252.6 640.0,254.6 660.0,258.6 670.0,261.6 680.0,263.6 700.0,267.6 710.0,270.4 720.0,272.4 730.0,275.4 740.0,278.6 750.0,282.6 759.0,285.6" stroke="#ff0000" stroke-width="1.2" />
<polyline class="l" points="40.0,249.5 60.0,251.5 80.0,253.5 102.0,256.0 112.0,256.4 130.0,259.0 148.0,262.0 160.0,262.0 170.0,263.5 178.0,262.4 198.0,264.4 218.0,266.4 238.0,264.0 248.0,259.0 258.0,255.0 270.0,253.0 280.0,252.4 290.0,252.6 300.0,254.4 306.0,256.6 326.0,257.0 336.0,259.0 346.0,259.6 356.0,261.6 366.0,262.6 386.0,262.6 406.0,261.0 416.0,259.0 426.0,257.0 436.0,255.0 450.0,253.6 472.0,253.6 492.0,255.6 512.0,252.4 522.0,250.4 532.0,247.6 542.0,245.4 552.0,245.4 560.0,247.4 572.0,247.6 590.0,249.6 602.0,251.6 610.0,252.5 620.0,254.6 630.0,256.6 640.0,262.0 650.0,266.0 660.0,268.0 680.0,272.4 700.0,277.0 710.0,280.0 720.0,283.0 729.0,285.4 738.0,292.0 748.0,297.0 759.0,299.4" stroke="#0000ff" stroke-width="1.2" />
<g class="c">
<rect x="36" y="328" width="726" height="1.3" fill="#800060"/>
<rect x="36" y="357" width="726" height="1.3" fill="#800060"/>
</g>
<line x1="38" y1="342.5" x2="758" y2="342.5" stroke="#800060" stroke-width="1.3" stroke-dasharray="2.5,3.68"/>
<polyline class="l" points="50.0,330.4 60.0,331.6 70.0,333.6 90.0,336.4 109.0,333.4 120.0,336.6 140.0,342.4 149.0,348.4 158.0,347.4 168.0,341.4 178.0,340.4 187.0,336.4 198.0,336.4 218.0,334.0 228.0,330.4 237.0,331.4 247.0,326.4 257.0,324.0 267.0,325.4 277.0,327.4 287.0,328.4 297.0,331.4 306.0,334.2 326.0,334.4 346.0,332.0 356.0,332.4 366.0,334.4 374.0,333.4 384.0,341.4 394.0,341.4 404.0,338.4 414.0,332.0 424.0,328.6 434.0,324.4 444.0,323.4 454.0,323.2 464.0,325.4 472.0,328.0 482.0,330.4 492.0,329.4 502.0,327.4 512.0,326.4 522.0,325.4 532.0,325.4 542.0,324.4 552.0,327.4 561.0,330.0 572.0,330.0 582.0,331.4 591.0,334.4 600.0,332.4 610.0,330.4 620.0,330.4 630.0,332.6 640.0,336.4 650.0,340.4 660.0,340.4 670.0,344.4 680.0,353.4 690.0,352.4 699.0,351.4 709.0,355.4 719.0,355.4 729.0,354.4 738.0,363.4 749.0,363.4 759.0,360.4" stroke="#800060" stroke-width="1.2" />
<g class="c">
<rect x="36" y="384" width="726" height="1.3" fill="#000"/>
<rect x="36" y="415" width="726" height="1.3" fill="#000"/>
</g>
<line x1="36" y1="400.5" x2="758" y2="400.5" stroke="#000" stroke-width="1.3" stroke-dasharray="2.5,3.68"/>
<polyline class="l" points="40.0,386.0 69.0,389.0 80.0,394.0 90.0,392.0 99.4,387.0 109.0,390.0 120.0,392.0 130.0,404.0 140.0,420.0 147.7,424.0 157.6,389.4 167.4,403.0 177.2,381.4 188.0,390.0 197.5,403.5 218.0,403.5 228.0,380.4 237.0,380.4 247.0,382.4 257.0,377.4 267.0,381.4 277.0,382.4 287.0,384.4 297.0,395.4 306.0,401.0 316.0,397.0 326.0,393.4 336.0,397.0 346.0,393.4 356.0,396.0 366.0,407.0 374.0,401.0 384.0,401.0 394.0,380.4 404.0,380.4 414.0,384.0 424.0,382.4 434.0,378.4 444.0,380.4 472.0,381.0 482.0,385.0 492.0,385.0 502.0,374.4 512.0,381.4 522.0,374.4 530.0,378.0 542.0,387.0 552.0,395.0 561.0,401.4 570.0,397.0 580.0,398.4 610.0,399.0 620.0,401.4 630.0,411.0 640.0,419.0 650.0,413.0 660.0,407.0 670.0,410.0 680.0,406.4 690.0,410.0 700.0,413.0 710.0,417.0 720.0,420.0 730.0,423.4 738.0,422.0 748.0,420.0 759.0,411.0" stroke="#111" stroke-width="1.1" stroke-dasharray="2.5,3.5"/>
<polyline class="l" points="40.0,385.0 69.0,387.0 80.0,391.0 90.0,393.4 99.4,392.0 109.0,391.0 120.0,392.6 130.0,400.0 140.0,409.0 149.0,415.4 159.0,410.4 169.0,406.0 178.0,391.4 198.0,391.4 208.0,398.0 217.0,403.4 228.0,396.0 237.0,389.0 247.0,382.0 257.0,380.4 267.0,380.4 277.0,381.4 287.0,383.4 297.0,388.0 306.0,394.0 316.0,398.4 326.0,397.4 336.0,395.4 346.0,394.0 356.0,395.4 366.0,400.0 374.0,402.4 384.0,403.4 394.0,394.0 404.0,387.4 414.0,381.4 424.0,382.4 434.0,381.0 444.0,380.4 454.0,380.4 472.0,381.4 482.0,383.0 492.0,384.0 502.0,381.4 512.0,381.4 522.0,377.4 532.0,379.0 542.0,380.4 552.0,388.0 561.0,394.0 572.0,397.0 582.0,398.0 591.0,397.4 600.0,398.0 610.0,398.4 620.0,400.0 630.0,405.0 640.0,411.0 650.0,414.4 660.0,413.0 670.0,411.0 680.0,408.4 690.0,409.4 700.0,412.0 710.0,414.4 720.0,417.0 730.0,421.0 738.0,422.4 748.0,421.0 759.0,417.0" stroke="#0000ff" stroke-width="1.15" />
<polyline class="l" points="40.0,384.0 69.0,384.6 80.0,387.6 90.0,391.0 99.4,392.6 109.0,392.0 120.0,392.0 130.0,395.0 140.0,401.0 149.0,408.0 159.0,411.4 169.0,411.4 178.0,403.0 188.0,396.0 198.0,391.4 208.0,395.0 218.0,399.0 228.0,399.4 237.0,396.0 247.0,389.4 257.0,383.6 267.0,380.6 277.0,380.4 287.0,381.4 297.0,384.0 306.0,388.0 316.0,393.4 326.0,396.0 336.0,397.0 346.0,396.0 356.0,395.4 366.0,397.0 374.0,399.4 384.0,401.4 394.0,400.0 404.0,395.4 414.0,388.0 424.0,384.0 434.0,382.0 444.0,381.4 454.0,380.6 472.0,381.4 492.0,383.4 512.0,383.0 522.0,380.4 532.0,379.4 542.0,379.4 552.0,383.0 561.0,388.0 572.0,394.0 582.0,397.0 591.0,398.4 610.0,398.4 620.0,399.4 630.0,401.0 640.0,405.0 650.0,409.4 660.0,412.0 670.0,412.4 680.0,410.4 690.0,409.4 700.0,410.0 710.0,412.0 720.0,414.0 730.0,417.0 738.0,419.6 748.0,421.4 759.0,420.4" stroke="#ff0000" stroke-width="1.15" />
<rect class="c" x="37" y="18" width="118.0" height="12" fill="#f5f5f5"/>
<text x="38.1" y="28" fill="#b5700f" stroke="#b5700f" stroke-width="0.25" textLength="116.5" lengthAdjust="spacing">Bollinger Band(14d, 2.0)</text>
<rect class="c" x="37" y="30" width="44.7" height="12" fill="#f5f5f5"/>
<text x="38.1" y="40" fill="#ff0000" stroke="#ff0000" stroke-width="0.25" textLength="43.2" lengthAdjust="spacing">MA (30d)</text>
<rect class="c" x="37" y="42" width="44.7" height="12" fill="#f5f5f5"/>
<text x="38.1" y="52" fill="#0000ff" stroke="#0000ff" stroke-width="0.25" textLength="43.2" lengthAdjust="spacing">MA (50d)</text>
<rect class="c" x="37" y="54" width="50.5" height="12" fill="#f5f5f5"/>
<text x="38.1" y="64" fill="#0a960a" stroke="#0a960a" stroke-width="0.25" textLength="49" lengthAdjust="spacing">MA (200d)</text>
<rect class="c" x="37" y="66" width="122.5" height="12" fill="#f5f5f5"/>
<text x="38.1" y="76" fill="#0a960a" stroke="#0a960a" stroke-width="0.25" textLength="121" lengthAdjust="spacing">Parabolic SAR (0.02, 0.2)</text>
<rect class="c" x="37" y="188" width="47.0" height="12" fill="#f5f5f5"/>
<text x="38.1" y="198" fill="#12a012" stroke="#12a012" stroke-width="0.25" textLength="45.5" lengthAdjust="spacing">ADX(14d)</text>
<rect class="c" x="37" y="200" width="17.0" height="12" fill="#f5f5f5"/>
<text x="38.1" y="210" fill="#000099" stroke="#000099" stroke-width="0.25" textLength="15.5" lengthAdjust="spacing">+DI</text>
<rect class="c" x="37" y="212" width="14.5" height="12" fill="#f5f5f5"/>
<text x="38.1" y="222" fill="#990000" stroke="#990000" stroke-width="0.25" textLength="13" lengthAdjust="spacing">-DI</text>
<rect class="c" x="37" y="244" width="76.5" height="12" fill="#f5f5f5"/>
<text x="38.1" y="254" fill="#0000ff" stroke="#0000ff" stroke-width="0.25" textLength="75" lengthAdjust="spacing">MACD(26d,12d)</text>
<rect class="c" x="37" y="256" width="44.5" height="12" fill="#f5f5f5"/>
<text x="38.1" y="266" fill="#ff0000" stroke="#ff0000" stroke-width="0.25" textLength="43" lengthAdjust="spacing">Signal(9)</text>
<rect class="c" x="37" y="315" width="46.0" height="12" fill="#f5f5f5"/>
<text x="38.1" y="325" fill="#800060" stroke="#800060" stroke-width="0.25" textLength="44.5" lengthAdjust="spacing">MFI (14d)</text>
<rect class="c" x="37" y="371" width="97.0" height="12" fill="#f5f5f5"/>
<text x="38.1" y="381" fill="#000" stroke="#000" stroke-width="0.25" textLength="95.5" lengthAdjust="spacing">Stochastic %K (14d)</text>
<rect class="c" x="37" y="383" width="32.5" height="12" fill="#f5f5f5"/>
<text x="38.1" y="393" fill="#0000ff" stroke="#0000ff" stroke-width="0.25" textLength="31" lengthAdjust="spacing">%D (3)</text>
<rect class="c" x="37" y="395" width="84.5" height="12" fill="#f5f5f5"/>
<text x="38.1" y="405" fill="#ff0000" stroke="#ff0000" stroke-width="0.25" textLength="83" lengthAdjust="spacing">Smoothed %D (3)</text>
<g class="c" fill="#66776f">
<rect x="35" y="16" width="1" height="412"/>
<rect x="762" y="16" width="1" height="412"/>
<rect x="35" y="16" width="728" height="1"/>
<rect x="35" y="185" width="728" height="1"/>
<rect x="35" y="186" width="728" height="1"/>
<rect x="35" y="241" width="728" height="1"/>
<rect x="35" y="242" width="728" height="1"/>
<rect x="35" y="312" width="728" height="1"/>
<rect x="35" y="313" width="728" height="1"/>
<rect x="35" y="368" width="728" height="1"/>
<rect x="35" y="369" width="728" height="1"/>
<rect x="35" y="427" width="728" height="1"/>
<rect x="763" y="101" width="2" height="1"/>
<rect x="763" y="118" width="2" height="1"/>
<rect x="763" y="135" width="2" height="1"/>
<rect x="763" y="152" width="2" height="1"/>
<rect x="763" y="169" width="2" height="1"/>
<rect x="50" y="428" width="1" height="14"/>
<rect x="99" y="428" width="1" height="14"/>
<rect x="138" y="428" width="1" height="14"/>
<rect x="187" y="428" width="1" height="14"/>
<rect x="237" y="428" width="1" height="14"/>
<rect x="286" y="428" width="1" height="14"/>
<rect x="325" y="428" width="1" height="14"/>
<rect x="374" y="428" width="1" height="14"/>
<rect x="424" y="428" width="1" height="14"/>
<rect x="473" y="428" width="1" height="14"/>
<rect x="522" y="428" width="1" height="14"/>
<rect x="571" y="428" width="1" height="14"/>
<rect x="620" y="428" width="1" height="14"/>
<rect x="670" y="428" width="1" height="14"/>
<rect x="719" y="428" width="1" height="14"/>
<rect x="109" y="428" width="1" height="28"/>
<rect x="315" y="428" width="1" height="28"/>
<rect x="522" y="428" width="1" height="28"/>
<rect x="738" y="428" width="1" height="28"/>
</g>
<text x="32.4" y="20.3" text-anchor="end" fill="#000" letter-spacing="0.3">0.51</text>
<text x="32.4" y="38.3" text-anchor="end" fill="#000" letter-spacing="0.3">0.48</text>
<text x="32.4" y="56.3" text-anchor="end" fill="#000" letter-spacing="0.3">0.45</text>
<text x="32.4" y="74.3" text-anchor="end" fill="#000" letter-spacing="0.3">0.42</text>
<text x="32.4" y="92.3" text-anchor="end" fill="#000" letter-spacing="0.3">0.39</text>
<text x="32.4" y="110.3" text-anchor="end" fill="#000" letter-spacing="0.3">0.36</text>
<text x="32.4" y="128.3" text-anchor="end" fill="#000" letter-spacing="0.3">0.33</text>
<text x="32.4" y="146.3" text-anchor="end" fill="#000" letter-spacing="0.3">0.30</text>
<text x="32.4" y="195.8" text-anchor="end" fill="#000" letter-spacing="0.3">80</text>
<text x="32.4" y="208.9" text-anchor="end" fill="#000" letter-spacing="0.3">60</text>
<text x="32.4" y="221.7" text-anchor="end" fill="#000" letter-spacing="0.3">40</text>
<text x="32.4" y="233.3" text-anchor="end" fill="#000" letter-spacing="0.3">20</text>
<text x="32.4" y="257.1" text-anchor="end" fill="#000" letter-spacing="0.3">0.021</text>
<text x="32.4" y="282.1" text-anchor="end" fill="#000" letter-spacing="0.3">0</text>
<text x="32.4" y="306.1" text-anchor="end" fill="#000" letter-spacing="0.3">-0.021</text>
<text x="32.4" y="332.1" text-anchor="end" fill="#000" letter-spacing="0.3">80%</text>
<text x="32.4" y="361.1" text-anchor="end" fill="#000" letter-spacing="0.3">20%</text>
<text x="32.4" y="388.1" text-anchor="end" fill="#000" letter-spacing="0.3">80%</text>
<text x="32.4" y="419.1" text-anchor="end" fill="#000" letter-spacing="0.3">20%</text>
<text x="766.6" y="105.2" text-anchor="start" fill="#000" textLength="28" lengthAdjust="spacing">0.21B</text>
<text x="766.6" y="122.2" text-anchor="start" fill="#000" textLength="28" lengthAdjust="spacing">0.17B</text>
<text x="766.6" y="139.2" text-anchor="start" fill="#000" textLength="28" lengthAdjust="spacing">0.13B</text>
<text x="766.6" y="156.2" text-anchor="start" fill="#000" textLength="29.8" lengthAdjust="spacing">85.1M</text>
<text x="766.6" y="173.2" text-anchor="start" fill="#000" textLength="29.8" lengthAdjust="spacing">42.5M</text>
<text x="51.7" y="440.2" text-anchor="start" fill="#000" letter-spacing="0.3">23</text>
<text x="100.7" y="440.2" text-anchor="start" fill="#000" letter-spacing="0.3">30</text>
<text x="139.7" y="440.2" text-anchor="start" fill="#000" letter-spacing="0.3">7</text>
<text x="188.7" y="440.2" text-anchor="start" fill="#000" letter-spacing="0.3">14</text>
<text x="238.7" y="440.2" text-anchor="start" fill="#000" letter-spacing="0.3">21</text>
<text x="287.7" y="440.2" text-anchor="start" fill="#000" letter-spacing="0.3">28</text>
<text x="326.7" y="440.2" text-anchor="start" fill="#000" letter-spacing="0.3">4</text>
<text x="375.7" y="440.2" text-anchor="start" fill="#000" letter-spacing="0.3">11</text>
<text x="425.7" y="440.2" text-anchor="start" fill="#000" letter-spacing="0.3">18</text>
<text x="474.7" y="440.2" text-anchor="start" fill="#000" letter-spacing="0.3">25</text>
<text x="523.7" y="440.2" text-anchor="start" fill="#000" letter-spacing="0.3">2</text>
<text x="572.7" y="440.2" text-anchor="start" fill="#000" letter-spacing="0.3">9</text>
<text x="621.7" y="440.2" text-anchor="start" fill="#000" letter-spacing="0.3">16</text>
<text x="671.7" y="440.2" text-anchor="start" fill="#000" letter-spacing="0.3">23</text>
<text x="720.7" y="440.2" text-anchor="start" fill="#000" letter-spacing="0.3">30</text>
<text x="111.2" y="453.3" text-anchor="start" fill="#000" letter-spacing="0.3">May '07</text>
<text x="317.2" y="453.3" text-anchor="start" fill="#000" letter-spacing="0.3">Jun</text>
<text x="524.2" y="453.3" text-anchor="start" fill="#000" letter-spacing="0.3">Jul</text>
<text x="740.2" y="453.3" text-anchor="start" fill="#000" letter-spacing="0.3">Aug</text>
<text x="37.5" y="12.5" text-anchor="start" fill="#000" font-size="12" textLength="59" lengthAdjust="spacing">CSC (C06)</text>
<text x="116.7" y="12" text-anchor="start" fill="#4a4a4a" font-size="11" textLength="53.4" lengthAdjust="spacing">03/08/2007</text>
<text x="186" y="12" text-anchor="start" fill="#4a4a4a" font-size="11" textLength="44.8" lengthAdjust="spacing">O= 0.335</text>
<text x="246.2" y="12" text-anchor="start" fill="#4a4a4a" font-size="11" textLength="37" lengthAdjust="spacing">H= 0.35</text>
<text x="306.6" y="12" text-anchor="start" fill="#4a4a4a" font-size="11" textLength="41.3" lengthAdjust="spacing">L= 0.325</text>
<text x="366.2" y="12" text-anchor="start" fill="#4a4a4a" font-size="11" textLength="36.6" lengthAdjust="spacing">C= 0.35</text>
<text x="427.3" y="12" text-anchor="start" fill="#4a4a4a" font-size="11" textLength="45.6" lengthAdjust="spacing">V= 30.1M</text>
<text x="487" y="12" text-anchor="start" fill="#4a4a4a" font-size="11" textLength="102.8" lengthAdjust="spacing">Chg= +0.025 (+7.7%)</text>
<text x="291.2" y="469" text-anchor="start" fill="#808080" font-size="9" textLength="218.5" lengthAdjust="spacing">powered by ChartNexus (www.chartnexus.com)</text>
</svg></body></html>
